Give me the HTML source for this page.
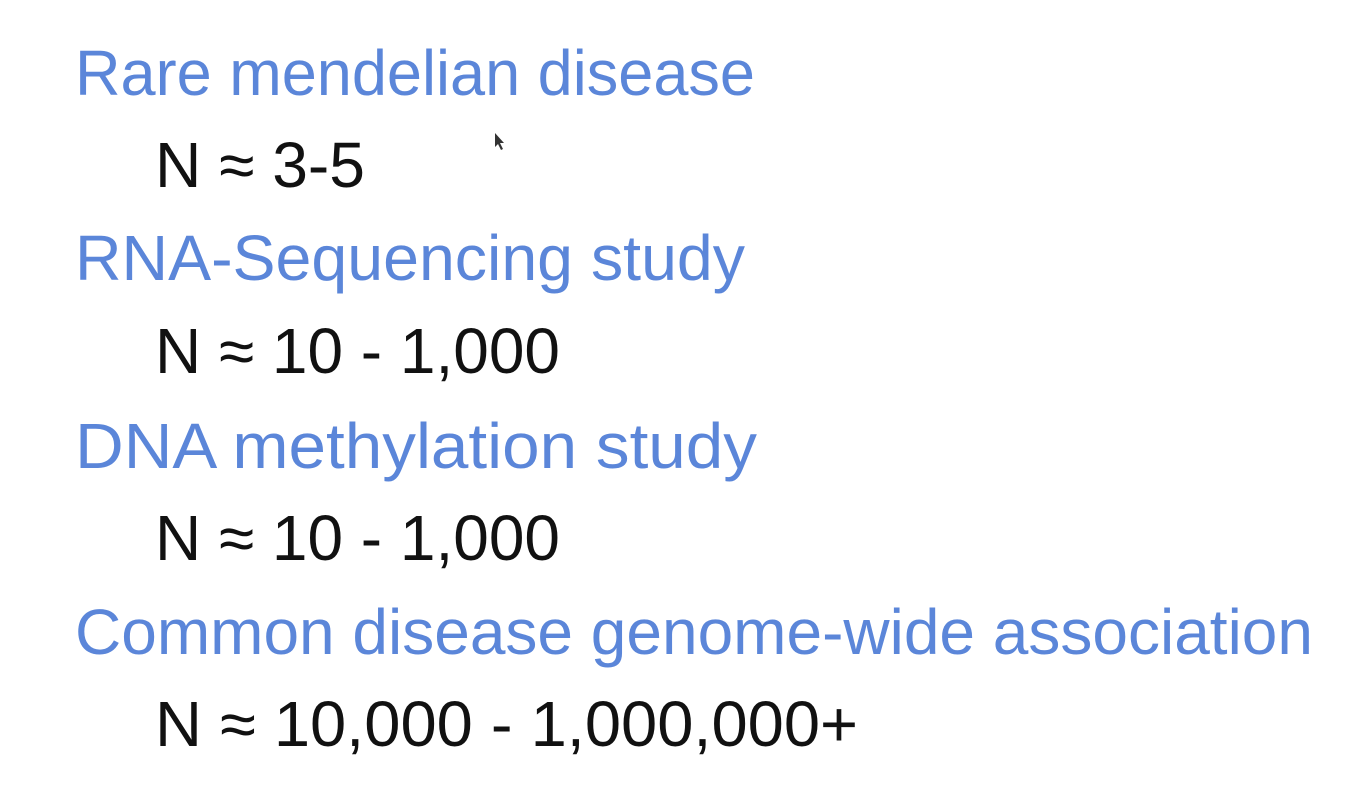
<!DOCTYPE html>
<html><head><meta charset="utf-8"><style>
html,body{margin:0;padding:0;background:#fff;width:1362px;height:798px;overflow:hidden}
svg{display:block}
text{font-family:"Liberation Sans",sans-serif;font-size:64px}
.h{fill:#5b86d9}.n{fill:#111}
</style></head><body>
<svg width="1362" height="798">
<text class="h" x="75" y="95" textLength="680" lengthAdjust="spacingAndGlyphs">Rare mendelian disease</text>
<text class="n" x="155" y="187" textLength="210" lengthAdjust="spacingAndGlyphs">N ≈ 3-5</text>
<text class="h" x="75" y="280" textLength="670" lengthAdjust="spacingAndGlyphs">RNA-Sequencing study</text>
<text class="n" x="155" y="373" textLength="405" lengthAdjust="spacingAndGlyphs">N ≈ 10 - 1,000</text>
<text class="h" x="75" y="468" textLength="682" lengthAdjust="spacingAndGlyphs">DNA methylation study</text>
<text class="n" x="155" y="560" textLength="405" lengthAdjust="spacingAndGlyphs">N ≈ 10 - 1,000</text>
<text class="h" x="75" y="654" textLength="1238" lengthAdjust="spacingAndGlyphs">Common disease genome-wide association</text>
<text class="n" x="155" y="746" textLength="703" lengthAdjust="spacingAndGlyphs">N ≈ 10,000 - 1,000,000+</text>
<path d="M495 133 L495 147 L498 144 L501 150 L503 149 L500 143 L504 143 Z" fill="#333"/>
</svg>
</body></html>
